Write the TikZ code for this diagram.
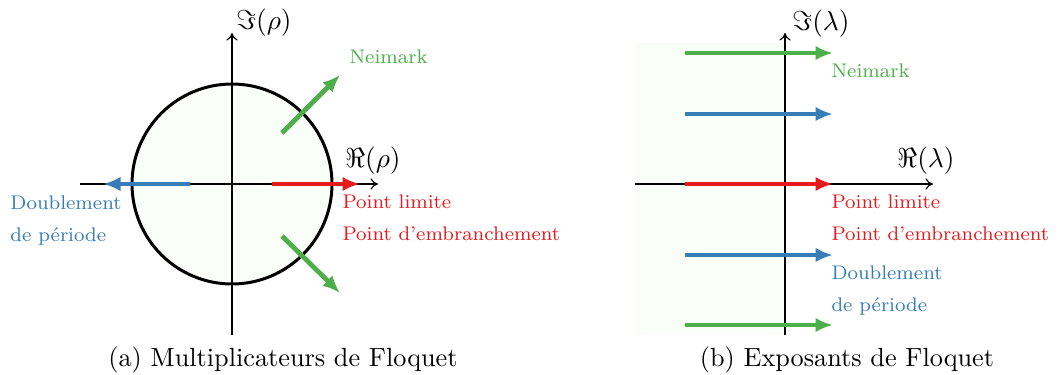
\documentclass[tikz,border=0pt]{standalone}
\usetikzlibrary{arrows.meta}
\definecolor{cgreen}{HTML}{4DAF4A}
\definecolor{cblue}{HTML}{377EB8}
\definecolor{cred}{HTML}{E41A1C}
\definecolor{pale}{RGB}{249,254,248}
\tikzset{
  axis/.style={line width=0.45pt,-{To[length=3pt,width=4.5pt]}},
  bif/.style={line width=1.9pt,-{Latex[length=7pt,width=5.8pt]}},
  lbl/.style={inner sep=0pt,anchor=base west,font=\fontsize{7.9}{9}\selectfont},
  axlbl/.style={inner sep=0pt,font=\fontsize{10.5}{12}\selectfont},
  captxt/.style={inner sep=0pt,anchor=base,font=\fontsize{10.5}{12}\selectfont},
}
\begin{document}
\begin{tikzpicture}[x=0.4pt,y=-0.4pt]
\useasboundingbox (0,0) rectangle (1059,374);
% ---- left panel ----
\fill[pale] (232,184) circle[radius=100];
\coordinate (hL1) at (80,184);  \coordinate (hL2) at (378,184);
\coordinate (vL1) at (232,335); \coordinate (vL2) at (232,33);
\draw[axis] (hL1) -- (hL2);
\draw[axis] (vL1) -- (vL2);
\draw[line width=1.2pt] (232,184) circle[radius=100];
\coordinate (bS) at (190,184); \coordinate (bE) at (103,184);
\coordinate (rS) at (272,184); \coordinate (rE) at (360,184);
\coordinate (gS1) at (282,133); \coordinate (gE1) at (340,75);
\coordinate (gS2) at (282,236); \coordinate (gE2) at (340,293);
\draw[bif,cblue] (bS) -- (bE);
\draw[bif,cred] (rS) -- (rE);
\draw[bif,cgreen] (gS1) -- (gE1);
\draw[bif,cgreen] (gS2) -- (gE2);
\node[axlbl] (imL) at (264,23) {$\Im(\rho)$};
\node[axlbl] (reL) at (373,161) {$\Re(\rho)$};
\node[lbl,text=cgreen] (nL) at (349,63) {Neimark};
\node[lbl,text=cblue] (d1L) at (10,209) {Doublement};
\node[lbl,text=cblue] (d2L) at (10,241) {de période};
\node[lbl,text=cred] (p1L) at (342,208) {Point limite};
\node[lbl,text=cred] (p2L) at (342,240) {Point d’embranchement};
\node[captxt] (capA) at (283,366) {(a) Multiplicateurs de Floquet};
% ---- right panel ----
\fill[pale] (635,43) rectangle (785,335);
\coordinate (hR1) at (635,184);  \coordinate (hR2) at (933,184);
\coordinate (vR1) at (785,335); \coordinate (vR2) at (785,33);
\draw[axis] (hR1) -- (hR2);
\draw[axis] (vR1) -- (vR2);
\coordinate (a1S) at (685,53);  \coordinate (a1E) at (833,53);
\coordinate (a2S) at (685,114); \coordinate (a2E) at (833,114);
\coordinate (a3S) at (685,184); \coordinate (a3E) at (833,184);
\coordinate (a4S) at (685,255); \coordinate (a4E) at (833,255);
\coordinate (a5S) at (685,325); \coordinate (a5E) at (833,325);
\draw[bif,cgreen] (a1S) -- (a1E);
\draw[bif,cblue] (a2S) -- (a2E);
\draw[bif,cred] (a3S) -- (a3E);
\draw[bif,cblue] (a4S) -- (a4E);
\draw[bif,cgreen] (a5S) -- (a5E);
\node[axlbl] (imR) at (821,24) {$\Im(\lambda)$};
\node[axlbl] (reR) at (926,161) {$\Re(\lambda)$};
\node[lbl,text=cgreen] (nR) at (831,77) {Neimark};
\node[lbl,text=cred] (p1R) at (831,208) {Point limite};
\node[lbl,text=cred] (p2R) at (831,240) {Point d’embranchement};
\node[lbl,text=cblue] (d1R) at (831,279) {Doublement};
\node[lbl,text=cblue] (d2R) at (831,311) {de période};
\node[captxt] (capB) at (847,366) {(b) Exposants de Floquet};
\end{tikzpicture}
\end{document}
